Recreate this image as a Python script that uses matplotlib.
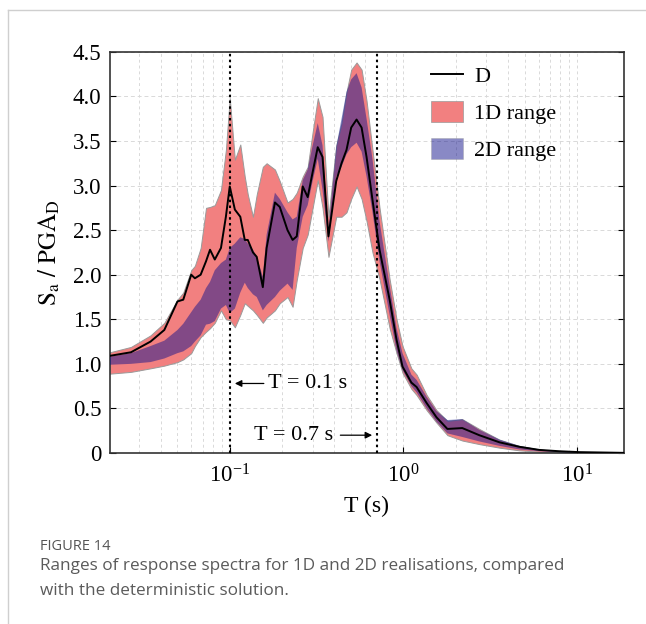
import matplotlib
matplotlib.use("Agg")
import matplotlib.pyplot as plt
from matplotlib.lines import Line2D
from matplotlib.patches import Patch
import numpy as np

plt.rcParams["font.family"] = ["Liberation Serif", "DejaVu Serif"]
plt.rcParams["mathtext.fontset"] = "stix"

# period grid (s) and spectral ratios
period = [0.0204, 0.027, 0.035, 0.042, 0.050, 0.054, 0.060, 0.063, 0.068, 0.073,
          0.077, 0.082, 0.089, 0.095, 0.100, 0.107, 0.115, 0.122, 0.127, 0.136,
          0.143, 0.155, 0.163, 0.182, 0.194, 0.215, 0.230, 0.243, 0.263, 0.281,
          0.300, 0.321, 0.342, 0.370, 0.410, 0.440, 0.470, 0.500, 0.537, 0.574,
          0.613, 0.663, 0.728, 0.832, 0.912, 0.987, 1.11, 1.19, 1.36, 1.55,
          1.79, 2.18, 2.73, 3.57, 4.64, 6.05, 7.89, 10.3, 18.4]
det = [1.09, 1.13, 1.25, 1.38, 1.70, 1.72, 2.00, 1.96, 2.00, 2.15,
       2.28, 2.17, 2.30, 2.65, 2.99, 2.73, 2.65, 2.39, 2.39, 2.25,
       2.20, 1.86, 2.30, 2.81, 2.76, 2.50, 2.39, 2.43, 2.99, 2.87,
       3.15, 3.43, 3.32, 2.43, 3.05, 3.25, 3.40, 3.65, 3.74, 3.65,
       3.32, 2.84, 2.28, 1.72, 1.27, 0.97, 0.79, 0.74, 0.56, 0.40,
       0.27, 0.28, 0.20, 0.12, 0.07, 0.035, 0.02, 0.01, 0.002]
r1d_lo = [0.89, 0.91, 0.95, 0.98, 1.02, 1.05, 1.12, 1.20, 1.30, 1.36,
          1.40, 1.46, 1.60, 1.50, 1.49, 1.41, 1.55, 1.68, 1.65, 1.60,
          1.55, 1.46, 1.52, 1.60, 1.68, 1.75, 1.64, 1.94, 2.30, 2.45,
          2.75, 3.06, 2.75, 2.20, 2.65, 2.65, 2.70, 2.85, 2.99, 2.85,
          2.60, 2.25, 1.95, 1.40, 1.12, 0.90, 0.72, 0.65, 0.48, 0.34,
          0.20, 0.14, 0.10, 0.06, 0.03, 0.015, 0.01, 0.005, 0.0]
r1d_hi = [1.13, 1.19, 1.32, 1.46, 1.72, 1.80, 2.05, 2.10, 2.30, 2.75,
          2.76, 2.78, 2.95, 3.40, 3.98, 3.29, 3.46, 3.10, 2.90, 2.65,
          2.90, 3.21, 3.25, 3.18, 3.05, 2.81, 2.85, 2.92, 3.10, 3.21,
          3.60, 3.98, 3.77, 2.65, 3.45, 3.70, 4.05, 4.30, 4.38, 4.30,
          3.95, 3.40, 2.75, 1.95, 1.50, 1.20, 0.95, 0.88, 0.65, 0.48,
          0.36, 0.38, 0.27, 0.15, 0.08, 0.04, 0.02, 0.012, 0.004]
r2d_lo = [0.99, 1.00, 1.02, 1.06, 1.12, 1.14, 1.20, 1.25, 1.32, 1.44,
          1.45, 1.48, 1.62, 1.66, 1.57, 1.62, 1.80, 1.91, 1.85, 1.78,
          1.75, 1.60, 1.66, 1.75, 1.82, 1.90, 1.83, 2.30, 2.65, 2.78,
          3.05, 3.30, 2.95, 2.37, 3.10, 3.21, 3.35, 3.43, 3.48, 3.38,
          3.10, 2.70, 2.15, 1.55, 1.15, 0.93, 0.75, 0.68, 0.50, 0.35,
          0.22, 0.18, 0.13, 0.08, 0.04, 0.02, 0.01, 0.006, 0.001]
r2d_hi = [1.08, 1.12, 1.20, 1.26, 1.38, 1.45, 1.58, 1.64, 1.72, 1.85,
          1.92, 2.05, 2.13, 2.17, 2.30, 2.35, 2.42, 2.40, 2.35, 2.28,
          2.20, 1.98, 2.45, 2.92, 2.85, 2.70, 2.62, 2.65, 3.06, 3.18,
          3.45, 3.70, 3.45, 2.50, 3.43, 3.75, 4.05, 4.19, 4.26, 4.10,
          3.75, 3.30, 2.60, 1.88, 1.40, 1.12, 0.88, 0.82, 0.63, 0.47,
          0.37, 0.38, 0.26, 0.15, 0.08, 0.04, 0.02, 0.011, 0.003]

y_ticks = [0, 0.5, 1.0, 1.5, 2.0, 2.5, 3.0, 3.5, 4.0, 4.5]
y_tick_labels = ["0", "0.5", "1.0", "1.5", "2.0", "2.5", "3.0", "3.5", "4.0", "4.5"]

PINK = "#f28080"
BLUE = (0.08, 0.08, 0.55)


def main() -> None:
    fig = plt.figure(figsize=(6.46, 6.24), dpi=100)
    ax = fig.add_axes([0.170, 0.274, 0.796, 0.643])

    ax.fill_between(period, r1d_lo, r1d_hi, color=PINK, edgecolor="#9a9a9a",
                    linewidth=0.7, zorder=2)
    ax.fill_between(period, r2d_lo, r2d_hi, facecolor=BLUE, alpha=0.5,
                    edgecolor="none", zorder=3)
    ax.plot(period, det, color="black", linewidth=1.4, zorder=4)

    for t in (0.1, 0.7):
        ax.axvline(t, color="black", linestyle=(0, (1.2, 1.6)), linewidth=1.5, zorder=5)

    ax.annotate("T = 0.1 s", xy=(0.107, 0.78), xytext=(0.166, 0.78),
                ha="left", va="center", fontsize=16,
                arrowprops=dict(arrowstyle="-|>", color="black", lw=0.9,
                                mutation_scale=10, shrinkA=1, shrinkB=0))
    ax.annotate("T = 0.7 s", xy=(0.66, 0.2), xytext=(0.395, 0.2),
                ha="right", va="center", fontsize=16,
                arrowprops=dict(arrowstyle="-|>", color="black", lw=0.9,
                                mutation_scale=10, shrinkA=3, shrinkB=0))

    ax.set_xscale("log")
    ax.set_xlim(0.0204, 18.6)
    ax.set_ylim(0, 4.5)
    ax.set_yticks(y_ticks)
    ax.set_yticklabels(y_tick_labels)
    ax.grid(True, which="both", axis="x", color="#d9d9d9", linestyle=(0, (3, 3)),
            linewidth=0.7, zorder=0)
    ax.grid(True, which="major", axis="y", color="#d9d9d9", linestyle=(0, (4, 3)),
            linewidth=0.7, zorder=0)
    ax.set_axisbelow(True)
    ax.tick_params(axis="both", which="both", direction="in", labelsize=16.5,
                   right=True, length=4, width=0.8)
    ax.tick_params(axis="x", which="minor", length=0)
    ax.tick_params(axis="x", pad=8)
    ax.tick_params(axis="y", pad=6)
    for spine in ax.spines.values():
        spine.set_linewidth(1.2)
        spine.set_color("#333333")

    ax.set_xlabel("T (s)", fontsize=17, labelpad=6)
    ax.set_ylabel(r"$\mathrm{S_a\ /\ PGA_D}$", fontsize=18, labelpad=8)

    handles = [
        Line2D([0], [0], color="black", linewidth=1.4),
        Patch(facecolor=PINK, edgecolor="#9a9a9a", linewidth=0.5),
        Patch(facecolor=BLUE, alpha=0.5, edgecolor="#9a9a9a", linewidth=0.5),
    ]
    ax.legend(handles, ["D", "1D range", "2D range"], loc="upper left",
              bbox_to_anchor=(0.585, 1.018), frameon=False, fontsize=16,
              handlelength=1.45, handleheight=1.05, labelspacing=0.62,
              handletextpad=0.5)

    # page decoration and caption
    fig.add_artist(Line2D([8 / 646, 1.0], [1 - 10 / 624, 1 - 10 / 624],
                          color="#cfcfcf", linewidth=1.0))
    fig.add_artist(Line2D([8 / 646, 8 / 646], [0, 1 - 10 / 624],
                          color="#cfcfcf", linewidth=1.0))
    fig.text(40 / 646, 1 - 547 / 624, "FIGURE 14", fontsize=10.5,
             family=["Open Sans", "DejaVu Sans"], color="#555555", va="center")
    fig.text(40 / 646, 1 - 566 / 624,
             "Ranges of response spectra for 1D and 2D realisations, compared",
             fontsize=12.3, family=["Open Sans", "DejaVu Sans"], color="#5a5a5a",
             va="center")
    fig.text(40 / 646, 1 - 591 / 624, "with the deterministic solution.",
             fontsize=12.3, family=["Open Sans", "DejaVu Sans"], color="#5a5a5a",
             va="center")

    fig.savefig("out.png", dpi=100)
    plt.close(fig)


if __name__ == "__main__":
    main()
